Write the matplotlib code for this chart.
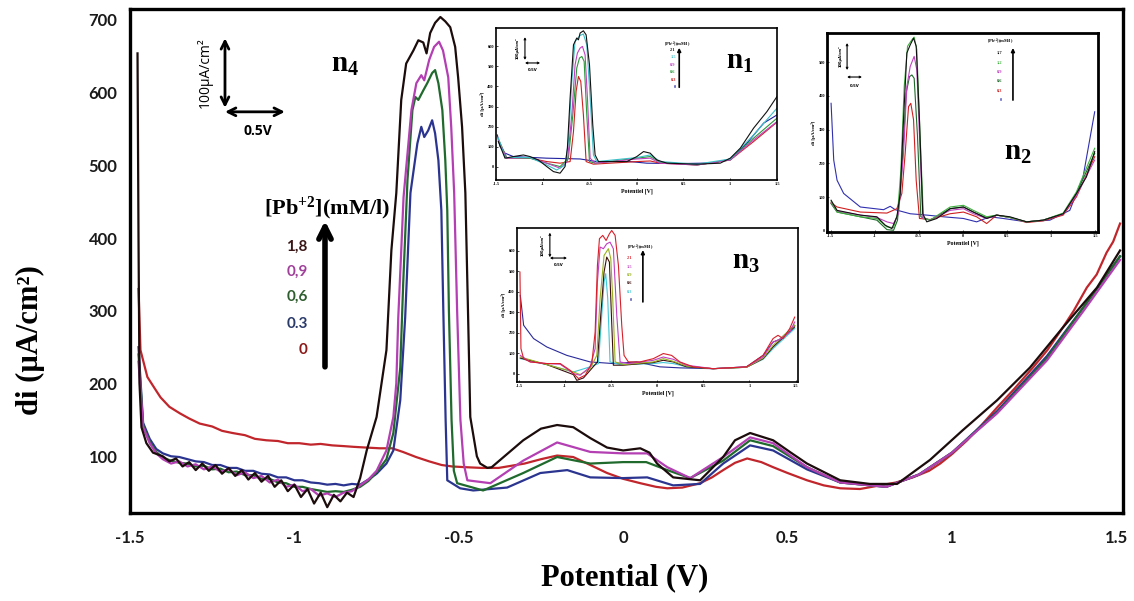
import matplotlib
matplotlib.use('Agg')
import matplotlib.pyplot as plt

plt.rcParams['axes.unicode_minus'] = False
plt.rcParams['mathtext.default'] = 'regular'

# ---- main voltammograms, potential (V) vs di (uA/cm2) ----
pb_labels = ['1,8', '0,9', '0,6', '0.3', '0']
pb_colors = ['#1c0c0c', '#b33fb3', '#1f6a2c', '#2b3590', '#c0262b']
pb_text_colors = ['#3a1616', '#a0409a', '#2e5e2e', '#2a3a6a', '#8b1a1a']

c18 = [(-1.477, 654), (-1.474, 400), (-1.471, 200), (-1.465, 140), (-1.450, 118),
       (-1.430, 105), (-1.40, 100), (-1.38, 93), (-1.36, 97), (-1.34, 86), (-1.32, 92),
       (-1.30, 81), (-1.28, 90), (-1.26, 80), (-1.24, 88), (-1.22, 76), (-1.20, 84),
       (-1.18, 73), (-1.16, 81), (-1.14, 68), (-1.12, 77), (-1.10, 65), (-1.08, 73),
       (-1.06, 58), (-1.04, 67), (-1.02, 52), (-1.00, 61), (-0.98, 44), (-0.96, 55),
       (-0.94, 35), (-0.92, 50), (-0.90, 30), (-0.88, 47), (-0.86, 38), (-0.84, 50),
       (-0.82, 44), (-0.80, 70), (-0.78, 108), (-0.75, 154), (-0.72, 246), (-0.705, 383),
       (-0.69, 462), (-0.675, 590), (-0.66, 640), (-0.638, 658), (-0.623, 672),
       (-0.608, 669), (-0.598, 654), (-0.587, 682), (-0.572, 696), (-0.556, 704),
       (-0.541, 698), (-0.526, 690), (-0.511, 663), (-0.502, 621), (-0.490, 553),
       (-0.480, 462), (-0.472, 300), (-0.465, 154), (-0.445, 100), (-0.435, 90),
       (-0.413, 84), (-0.40, 85), (-0.374, 95), (-0.304, 122), (-0.25, 138),
       (-0.201, 143), (-0.152, 140), (-0.10, 125), (-0.049, 112), (0.0, 108),
       (0.052, 111), (0.08, 105), (0.103, 90), (0.152, 71), (0.234, 67), (0.304, 99),
       (0.34, 122), (0.386, 132), (0.456, 122), (0.51, 105), (0.559, 90), (0.66, 67),
       (0.75, 62), (0.833, 62), (0.933, 95), (1.033, 136), (1.137, 177), (1.237, 222),
       (1.337, 277), (1.441, 332), (1.511, 383)]

c09 = [(-1.474, 230), (-1.46, 140), (-1.44, 118), (-1.42, 104), (-1.40, 96),
       (-1.375, 90), (-1.35, 93), (-1.325, 86), (-1.30, 89), (-1.275, 82), (-1.25, 86),
       (-1.225, 79), (-1.20, 82), (-1.175, 74), (-1.15, 78), (-1.125, 70), (-1.10, 73),
       (-1.075, 64), (-1.05, 68), (-1.025, 58), (-1.00, 61), (-0.975, 52), (-0.95, 55),
       (-0.925, 46), (-0.90, 49), (-0.875, 44), (-0.85, 50), (-0.825, 52), (-0.80, 60),
       (-0.775, 68), (-0.75, 80), (-0.72, 108), (-0.699, 154), (-0.69, 200),
       (-0.684, 291), (-0.675, 383), (-0.668, 456), (-0.644, 576), (-0.629, 613),
       (-0.614, 624), (-0.605, 617), (-0.590, 645), (-0.575, 663), (-0.560, 670),
       (-0.548, 658), (-0.532, 621), (-0.523, 553), (-0.514, 462), (-0.505, 300),
       (-0.495, 150), (-0.485, 90), (-0.474, 67), (-0.404, 63), (-0.304, 94),
       (-0.201, 119), (-0.10, 106), (0.0, 104), (0.073, 104), (0.134, 85), (0.204, 70),
       (0.304, 99), (0.386, 126), (0.456, 118), (0.559, 85), (0.66, 64), (0.80, 58),
       (0.90, 75), (1.00, 105), (1.137, 159), (1.289, 232), (1.40, 300), (1.511, 370)]

c06 = [(-1.474, 240), (-1.46, 142), (-1.44, 120), (-1.42, 106), (-1.40, 98),
       (-1.375, 94), (-1.35, 91), (-1.325, 90), (-1.30, 86), (-1.275, 87), (-1.25, 82),
       (-1.225, 83), (-1.20, 78), (-1.175, 79), (-1.15, 74), (-1.125, 74), (-1.10, 69),
       (-1.075, 69), (-1.05, 64), (-1.025, 63), (-1.00, 58), (-0.975, 58), (-0.95, 55),
       (-0.925, 53), (-0.90, 51), (-0.875, 52), (-0.85, 51), (-0.825, 54), (-0.80, 58),
       (-0.775, 66), (-0.75, 78), (-0.72, 96), (-0.699, 132), (-0.678, 222),
       (-0.669, 338), (-0.656, 480), (-0.641, 576), (-0.632, 594), (-0.623, 590),
       (-0.608, 603), (-0.596, 613), (-0.581, 627), (-0.572, 631), (-0.562, 613),
       (-0.550, 576), (-0.541, 507), (-0.535, 438), (-0.530, 300), (-0.522, 150),
       (-0.515, 80), (-0.505, 63), (-0.426, 53), (-0.304, 77), (-0.201, 99), (-0.10, 90),
       (0.0, 92), (0.07, 92), (0.134, 81), (0.204, 70), (0.304, 94), (0.386, 122),
       (0.456, 114), (0.559, 85), (0.66, 64), (0.80, 58), (0.90, 75), (1.00, 105),
       (1.137, 160), (1.289, 235), (1.40, 305), (1.511, 375)]

c03 = [(-1.474, 250), (-1.46, 146), (-1.44, 124), (-1.42, 110), (-1.40, 104),
       (-1.375, 100), (-1.35, 99), (-1.325, 96), (-1.30, 93), (-1.275, 92), (-1.25, 88),
       (-1.225, 88), (-1.20, 84), (-1.175, 84), (-1.15, 80), (-1.125, 80), (-1.10, 76),
       (-1.075, 75), (-1.05, 71), (-1.025, 71), (-1.00, 67), (-0.975, 67), (-0.95, 64),
       (-0.925, 63), (-0.90, 61), (-0.875, 62), (-0.85, 60), (-0.825, 62), (-0.80, 61),
       (-0.775, 68), (-0.75, 76), (-0.72, 90), (-0.699, 108), (-0.678, 177),
       (-0.663, 291), (-0.647, 462), (-0.626, 530), (-0.614, 553), (-0.605, 539),
       (-0.593, 548), (-0.581, 562), (-0.572, 544), (-0.562, 507), (-0.553, 438),
       (-0.547, 300), (-0.540, 150), (-0.535, 67), (-0.496, 56), (-0.456, 53),
       (-0.353, 57), (-0.252, 77), (-0.170, 81), (-0.10, 71), (0.0, 70), (0.073, 71),
       (0.152, 60), (0.234, 62), (0.304, 90), (0.386, 115), (0.456, 108), (0.559, 82),
       (0.66, 64), (0.80, 58), (0.90, 75), (1.00, 105), (1.137, 162), (1.289, 238),
       (1.40, 305), (1.511, 375)]

c00 = [(-1.474, 330), (-1.468, 246), (-1.447, 209), (-1.42, 190), (-1.407, 181),
       (-1.38, 168), (-1.348, 159), (-1.32, 152), (-1.288, 145), (-1.25, 141),
       (-1.22, 135), (-1.188, 132), (-1.15, 129), (-1.12, 124), (-1.085, 122),
       (-1.05, 121), (-1.02, 118), (-0.985, 118), (-0.95, 116), (-0.92, 117),
       (-0.885, 115), (-0.85, 114), (-0.82, 113), (-0.782, 112), (-0.74, 111),
       (-0.703, 111), (-0.67, 106), (-0.63, 99), (-0.59, 93), (-0.552, 88), (-0.52, 86),
       (-0.479, 85), (-0.43, 84), (-0.379, 84), (-0.30, 90), (-0.25, 96), (-0.201, 101),
       (-0.152, 99), (-0.10, 88), (-0.049, 77), (0.0, 69), (0.052, 63), (0.10, 58),
       (0.134, 56), (0.18, 57), (0.234, 63), (0.27, 71), (0.304, 81), (0.34, 91),
       (0.377, 97), (0.42, 92), (0.456, 85), (0.50, 77), (0.559, 67), (0.61, 60),
       (0.66, 56), (0.72, 55), (0.781, 60), (0.83, 64), (0.881, 71), (0.93, 80),
       (0.964, 90), (1.00, 103), (1.046, 122), (1.09, 143), (1.137, 167), (1.19, 193),
       (1.246, 222), (1.29, 246), (1.337, 277), (1.37, 300), (1.41, 332), (1.44, 350),
       (1.47, 380), (1.49, 395), (1.511, 420)]

# ---- inset n1 ----
n1_labels = ['2.1', '1.5', '0.9', '0.6', '0.3', '0']
n1_colors = ['#111111', '#3cc0c8', '#c040c0', '#2a9a3a', '#d02020', '#2020a0']
n1_21 = [(-1.475, 125), (-1.404, 42), (-1.315, 50), (-1.208, 58), (-1.137, 50),
         (-1.048, 33), (-0.958, 0), (-0.887, -25), (-0.816, -33), (-0.763, 0),
         (-0.738, 92), (-0.709, 342), (-0.673, 608), (-0.638, 642), (-0.620, 633),
         (-0.602, 667), (-0.567, 678), (-0.538, 658), (-0.502, 508), (-0.467, 208),
         (-0.442, 58), (-0.406, 25), (-0.246, 25), (-0.103, 25), (0.003, 50), (0.075, 75),
         (0.146, 67), (0.217, 33), (0.324, 17), (0.645, 12), (0.894, 17), (1.001, 42),
         (1.108, 92), (1.250, 192), (1.393, 275), (1.500, 350)]
n1_15 = [(-1.475, 142), (-1.404, 45), (-1.137, 45), (-0.958, 8), (-0.852, -17),
         (-0.763, 8), (-0.727, 125), (-0.691, 425), (-0.656, 625), (-0.602, 655),
         (-0.567, 662), (-0.531, 608), (-0.495, 342), (-0.460, 58), (-0.424, 25),
         (0.003, 45), (0.146, 58), (0.253, 25), (0.645, 12), (1.001, 38), (1.250, 158),
         (1.500, 292)]
n1_09 = [(-1.475, 133), (-1.386, 42), (-1.137, 45), (-0.958, 17), (-0.816, -8),
         (-0.738, 25), (-0.691, 258), (-0.656, 508), (-0.631, 567), (-0.602, 592),
         (-0.577, 600), (-0.549, 558), (-0.524, 342), (-0.495, 42), (-0.442, 17),
         (0.003, 38), (0.146, 42), (0.253, 17), (0.645, 8), (1.001, 33), (1.250, 133),
         (1.500, 225)]
n1_06 = [(-1.475, 138), (-1.386, 45), (-1.137, 42), (-0.958, 17), (-0.816, 0),
         (-0.727, 42), (-0.680, 258), (-0.638, 492), (-0.609, 542), (-0.584, 550),
         (-0.559, 525), (-0.531, 258), (-0.502, 25), (-0.442, 17), (0.003, 42),
         (0.146, 50), (0.253, 22), (0.645, 8), (1.001, 33), (1.250, 142), (1.500, 242)]
n1_03 = [(-1.475, 128), (-1.386, 42), (-1.137, 42), (-0.958, 25), (-0.816, 17),
         (-0.709, 25), (-0.673, 175), (-0.645, 375), (-0.620, 450), (-0.595, 425),
         (-0.567, 258), (-0.538, 25), (-0.460, 12), (0.003, 25), (0.146, 28), (0.253, 17),
         (0.645, 8), (1.001, 33), (1.250, 125), (1.500, 222)]
n1_00 = [(-1.486, 158), (-1.457, 100), (-1.404, 67), (-1.315, 50), (-0.958, 42),
         (-0.602, 38), (-0.424, 25), (-0.068, 25), (0.110, 17), (0.467, 15), (0.823, 18),
         (1.001, 38), (1.179, 117), (1.357, 217), (1.500, 258)]

# ---- inset n2 ----
n2_labels = ['1,7', '1,2', '0,9', '0,6', '0,3', '0']
n2_colors = ['#111111', '#40b040', '#c040c0', '#1e6a2a', '#d02020', '#3030b0']
n2_17 = [(-1.494, 91), (-1.426, 61), (-1.162, 47), (-0.974, 42), (-0.879, 17),
         (-0.804, 7), (-0.747, 42), (-0.709, 111), (-0.672, 329), (-0.634, 527),
         (-0.596, 551), (-0.558, 571), (-0.528, 547), (-0.491, 329), (-0.453, 51),
         (-0.408, 27), (-0.294, 37), (-0.143, 66), (0.008, 71), (0.121, 56), (0.272, 37),
         (0.385, 47), (0.536, 42), (0.725, 27), (0.913, 32), (1.140, 51), (1.291, 111),
         (1.404, 160), (1.498, 235)]
n2_12 = [(-1.494, 86), (-1.426, 56), (-1.162, 42), (-0.974, 37), (-0.860, 12),
         (-0.785, 10), (-0.740, 51), (-0.702, 180), (-0.664, 428), (-0.626, 547),
         (-0.577, 566), (-0.551, 574), (-0.521, 537), (-0.483, 279), (-0.445, 37),
         (-0.370, 32), (-0.143, 71), (0.008, 76), (0.121, 61), (0.272, 42), (0.385, 47),
         (0.536, 40), (0.725, 27), (0.913, 32), (1.140, 53), (1.291, 116), (1.498, 245)]
n2_09 = [(-1.494, 83), (-1.426, 59), (-1.162, 47), (-0.974, 40), (-0.860, 27),
         (-0.785, 22), (-0.728, 51), (-0.672, 230), (-0.634, 428), (-0.596, 487),
         (-0.551, 517), (-0.521, 477), (-0.483, 230), (-0.453, 37), (-0.370, 32),
         (-0.143, 61), (0.008, 66), (0.121, 51), (0.272, 37), (0.385, 47), (0.536, 40),
         (0.725, 27), (0.913, 32), (1.140, 50), (1.291, 106), (1.498, 210)]
n2_06 = [(-1.494, 81), (-1.426, 56), (-1.162, 42), (-0.974, 32), (-0.860, 4),
         (-0.785, 2), (-0.740, 32), (-0.691, 180), (-0.642, 408), (-0.604, 457),
         (-0.577, 462), (-0.551, 452), (-0.513, 279), (-0.475, 42), (-0.370, 32),
         (-0.143, 66), (0.008, 71), (0.121, 56), (0.272, 39), (0.385, 47), (0.536, 40),
         (0.725, 27), (0.913, 32), (1.140, 51), (1.291, 111), (1.498, 230)]
n2_03 = [(-1.494, 83), (-1.426, 71), (-1.162, 56), (-0.860, 53), (-0.747, 66),
         (-0.691, 111), (-0.653, 230), (-0.615, 368), (-0.589, 378), (-0.558, 329),
         (-0.528, 150), (-0.491, 37), (-0.370, 34), (-0.143, 51), (0.008, 56),
         (0.158, 42), (0.272, 22), (0.385, 47), (0.536, 40), (0.725, 25), (0.913, 30),
         (1.140, 47), (1.291, 101), (1.498, 220)]
n2_00 = [(-1.494, 378), (-1.464, 210), (-1.426, 150), (-1.351, 111), (-1.162, 71),
         (-0.898, 63), (-0.823, 73), (-0.766, 63), (-0.596, 51), (-0.408, 47),
         (-0.219, 42), (0.008, 37), (0.158, 27), (0.309, 42), (0.460, 37), (0.725, 27),
         (0.989, 32), (1.215, 61), (1.366, 160), (1.498, 353)]

# ---- inset n3 ----
n3_labels = ['2.1', '1.5', '0.9', '0.6', '0.3', '0']
n3_colors = ['#d8202a', '#c040c0', '#9ab020', '#3a1010', '#40c8d8', '#2a2a9a']
n3_21 = [(-1.491, 496), (-1.480, 122), (-1.451, 73), (-1.379, 57), (-1.199, 49),
         (-1.054, 49), (-0.946, 16), (-0.856, -24), (-0.783, -8), (-0.711, 49),
         (-0.675, 203), (-0.650, 528), (-0.628, 659), (-0.592, 675), (-0.556, 650),
         (-0.520, 683), (-0.495, 699), (-0.458, 675), (-0.422, 528), (-0.386, 236),
         (-0.361, 89), (-0.314, 57), (-0.188, 57), (-0.043, 73), (0.065, 98),
         (0.155, 89), (0.245, 57), (0.390, 33), (0.606, 24), (0.968, 33), (1.148, 89),
         (1.256, 171), (1.310, 187), (1.365, 171), (1.437, 220), (1.491, 276)]
n3_15 = [(-1.487, 89), (-1.379, 57), (-1.199, 49), (-1.054, 46), (-0.910, 0),
         (-0.838, -8), (-0.729, 33), (-0.675, 122), (-0.650, 447), (-0.621, 618),
         (-0.585, 610), (-0.549, 634), (-0.513, 642), (-0.477, 610), (-0.440, 285),
         (-0.404, 57), (-0.314, 49), (-0.043, 65), (0.065, 81), (0.173, 70), (0.318, 41),
         (0.606, 24), (0.968, 33), (1.148, 81), (1.256, 154), (1.329, 167), (1.437, 203),
         (1.491, 252)]
n3_09 = [(-1.487, 81), (-1.199, 44), (-0.910, 8), (-0.838, -5), (-0.729, 24),
         (-0.657, 89), (-0.621, 366), (-0.578, 577), (-0.531, 610), (-0.505, 561),
         (-0.484, 366), (-0.458, 57), (-0.368, 44), (-0.043, 57), (0.065, 73),
         (0.173, 60), (0.318, 37), (0.606, 24), (0.968, 31), (1.148, 76), (1.256, 138),
         (1.491, 236)]
n3_06 = [(-1.487, 76), (-1.199, 44), (-0.910, -5), (-0.874, -33), (-0.801, -21),
         (-0.729, 16), (-0.650, 57), (-0.614, 285), (-0.578, 496), (-0.549, 569),
         (-0.520, 545), (-0.498, 285), (-0.477, 41), (-0.368, 41), (-0.043, 54),
         (0.065, 65), (0.173, 57), (0.318, 33), (0.606, 24), (0.968, 31), (1.148, 73),
         (1.256, 130), (1.491, 228)]
n3_03 = [(-1.487, 73), (-1.199, 44), (-0.910, 8), (-0.729, 33), (-0.639, 49),
         (-0.603, 285), (-0.578, 447), (-0.560, 488), (-0.538, 366), (-0.513, 57),
         (-0.404, 44), (-0.043, 49), (0.065, 54), (0.173, 49), (0.318, 33), (0.606, 24),
         (0.968, 31), (1.148, 70), (1.256, 122), (1.491, 220)]
n3_00 = [(-1.487, 382), (-1.451, 236), (-1.343, 171), (-1.199, 130), (-0.982, 89),
         (-0.729, 57), (-0.477, 49), (-0.224, 57), (0.029, 33), (0.245, 28), (0.606, 24),
         (0.968, 33), (1.148, 89), (1.256, 154), (1.329, 167), (1.491, 236)]

x_ticks = [-1.5, -1, -0.5, 0, 0.5, 1, 1.5]
x_ticklabels = ['-1.5', '-1', '-0.5', '0', '0.5', '1', '1.5']

SERIF = 'Liberation Serif'


def trace(ax, pts, color, lw):
    xs = [p[0] for p in pts]
    ys = [p[1] for p in pts]
    ax.plot(xs, ys, color=color, lw=lw, solid_joinstyle='round')


def dbl_arrow(ax, p0, p1, lw, scale):
    ax.annotate('', xy=p1, xytext=p0, xycoords='axes fraction',
                textcoords='axes fraction',
                arrowprops=dict(arrowstyle='<->', lw=lw, color='black',
                                mutation_scale=scale, shrinkA=0, shrinkB=0))


def inset(rect, ylim, yticks, curves, colors, labels, name, sub, lay):
    ax = fig.add_axes(rect)
    ax.set_facecolor('white')
    for pts, col in zip(curves[::-1], colors[::-1]):
        trace(ax, pts, col, 0.8)
    ax.set_xlim(*lay['xlim'])
    ax.set_ylim(*ylim)
    ax.set_xticks(x_ticks)
    ax.set_xticklabels(x_ticklabels)
    ax.set_yticks(yticks)
    ax.tick_params(length=1.2, width=0.5, pad=1.5, labelsize=3.2, direction='in')
    for t in ax.get_xticklabels() + ax.get_yticklabels():
        t.set_fontfamily(SERIF)
        t.set_fontweight('bold')
    for s in ax.spines.values():
        s.set_linewidth(lay['frame'])
    ax.set_xlabel('Potentiel [V]', fontsize=4.2, fontweight='bold',
                  fontfamily=SERIF, labelpad=1.5)
    ax.set_ylabel('di [µA/cm²]', fontsize=3.6, fontweight='bold',
                  fontfamily=SERIF, labelpad=1.5)
    # scale bar
    vx, vy0, vy1, hx1, hy = lay['bar']
    dbl_arrow(ax, (vx, vy0), (vx, vy1), 0.8, 3)
    dbl_arrow(ax, (vx, hy), (hx1, hy), 0.8, 3)
    ax.text(vx - 0.025, (vy0 + vy1) / 2, '100µA/cm²', rotation=90, fontsize=2.6,
            fontweight='bold', ha='center', va='center', transform=ax.transAxes)
    ax.text((vx + hx1) / 2, hy - 0.045, '0.5V', fontsize=2.8, fontweight='bold',
            ha='center', va='center', transform=ax.transAxes)
    # concentration key
    kx, ky_top, ky_step, ax_x, ay0, ay1, hx, hyy = lay['key']
    ax.text(hx, hyy, r'[Pb$^{+2}$](mM/l)', fontsize=3.2, fontweight='bold',
            fontfamily=SERIF, ha='center', va='center', transform=ax.transAxes)
    for i, (lab, col) in enumerate(zip(labels, colors)):
        ax.text(kx, ky_top - i * ky_step, lab, fontsize=3.2, fontweight='bold',
                fontfamily=SERIF, color=col, ha='right', va='center',
                transform=ax.transAxes)
    ax.annotate('', xy=(ax_x, ay1), xytext=(ax_x, ay0), xycoords='axes fraction',
                textcoords='axes fraction',
                arrowprops=dict(arrowstyle='-|>', lw=1.2, color='black',
                                mutation_scale=5, shrinkA=0, shrinkB=0))
    nx, ny = lay['n']
    ax.text(nx, ny, name + '$_{' + sub + '}$', fontsize=21, fontweight='bold',
            fontfamily=SERIF, ha='center', va='center', transform=ax.transAxes)
    return ax


fig = plt.figure(figsize=(11.34, 6.01), dpi=100)
ax = fig.add_axes([0.1146, 0.1464, 0.8757, 0.8386])

main_curves = [c18, c09, c06, c03, c00]
for pts, col in zip(main_curves[::-1], pb_colors[::-1]):
    trace(ax, pts, col, 1.6)

ax.set_xlim(-1.50, 1.52)
ax.set_ylim(22, 715)
ax.set_xticks(x_ticks)
ax.set_xticklabels(x_ticklabels)
ax.set_yticks([100, 200, 300, 400, 500, 600, 700])
ax.tick_params(axis='y', length=0, pad=9)
ax.tick_params(axis='x', length=0, pad=12)
for t in ax.get_xticklabels() + ax.get_yticklabels():
    t.set_fontfamily('Lato')
    t.set_fontweight('bold')
    t.set_fontsize(12)
    t.set_color('#1a1a1a')
for s in ax.spines.values():
    s.set_linewidth(2.4)

fig.text(0.0265, 0.434, 'di (µA/cm²)', rotation=90, fontsize=22, fontweight='bold',
         fontfamily=SERIF, ha='center', va='center')
fig.text(0.551, 0.038, 'Potential (V)', fontsize=22, fontweight='bold',
         fontfamily=SERIF, ha='center', va='center')

# scale bar of the main plot
dbl_arrow(ax, (0.0957, 0.804), (0.0957, 0.942), 2.0, 14)
dbl_arrow(ax, (0.0957, 0.796), (0.156, 0.796), 2.0, 14)
ax.text(0.0755, 0.873, '100µA/cm²', rotation=90, fontsize=10, ha='center',
        va='center', fontfamily='Open Sans', transform=ax.transAxes)
ax.text(0.129, 0.758, '0.5V', fontsize=10, fontweight='bold', ha='center',
        va='center', fontfamily='Open Sans', transform=ax.transAxes)

# concentration key of the main plot
ax.text(0.198, 0.605, r'[Pb$^{+2}$](mM/l)', fontsize=16, fontweight='bold',
        fontfamily=SERIF, ha='center', va='center', transform=ax.transAxes)
key_y = [0.528, 0.478, 0.429, 0.375, 0.323]
for lab, col, yy in zip(pb_labels, pb_text_colors, key_y):
    ax.text(0.1792, yy, lab, fontsize=11, fontweight='bold', color=col,
            fontfamily='Lato', ha='right', va='center', transform=ax.transAxes)
ax.annotate('', xy=(0.1964, 0.580), xytext=(0.1964, 0.290), xycoords='axes fraction',
            textcoords='axes fraction',
            arrowprops=dict(arrowstyle='->', lw=4, color='black',
                            mutation_scale=22, shrinkA=0, shrinkB=0))
ax.text(0.2165, 0.889, 'n$_{4}$', fontsize=21, fontweight='bold', fontfamily=SERIF,
        ha='center', va='center', transform=ax.transAxes)

inset([0.4374, 0.7005, 0.2478, 0.2529], (-67, 692), [0, 100, 200, 300, 400, 500, 600],
      [n1_21, n1_15, n1_09, n1_06, n1_03, n1_00], n1_colors, n1_labels, 'n', '1',
      dict(xlim=(-1.5, 1.5), frame=1.2,
           bar=(0.103, 0.79, 0.94, 0.157, 0.77),
           key=(0.64, 0.855, 0.049, 0.652, 0.61, 0.87, 0.644, 0.89),
           n=(0.868, 0.78)))

inset([0.7293, 0.614, 0.239, 0.331], (-3, 586), [0, 100, 200, 300, 400, 500],
      [n2_17, n2_12, n2_09, n2_06, n2_03, n2_00], n2_colors, n2_labels, 'n', '2',
      dict(xlim=(-1.54, 1.536), frame=2.0,
           bar=(0.074, 0.814, 0.95, 0.129, 0.779),
           key=(0.646, 0.90, 0.047, 0.686, 0.663, 0.925, 0.638, 0.955),
           n=(0.705, 0.40)))

inset([0.4559, 0.3644, 0.2478, 0.2562], (-41, 711), [0, 100, 200, 300, 400, 500, 600],
      [n3_21, n3_15, n3_09, n3_06, n3_03, n3_00], n3_colors, n3_labels, 'n', '3',
      dict(xlim=(-1.523, 1.527), frame=1.2,
           bar=(0.117, 0.81, 0.97, 0.178, 0.805),
           key=(0.41, 0.805, 0.055, 0.448, 0.52, 0.857, 0.44, 0.87),
           n=(0.815, 0.78)))

fig.savefig('out.png', dpi=100)
